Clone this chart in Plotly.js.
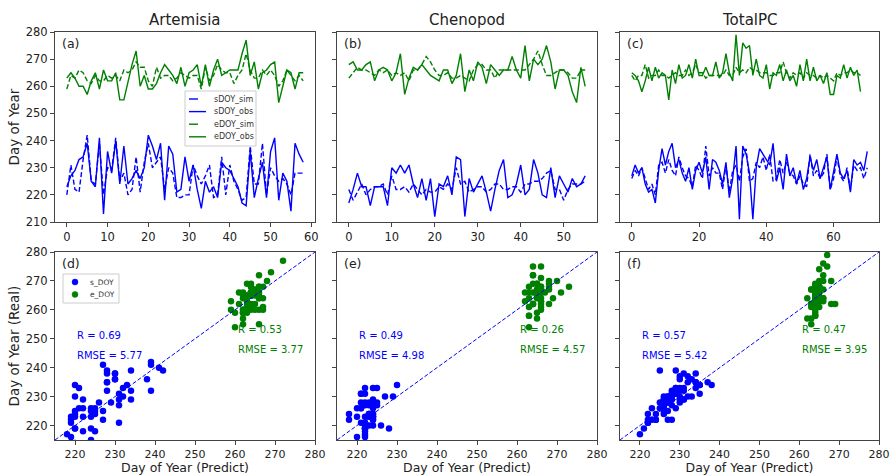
<!DOCTYPE html>
<html><head><meta charset="utf-8">
<script src="https://cdn.plot.ly/plotly-3.0.1.min.js"></script>
<style>html,body{margin:0;padding:0;background:#fff}#chart{width:890px;height:475px}</style>
</head><body><div id="chart"></div>
<script>
const panelTitles = ['Artemisia', 'Chenopod', 'TotalPC'];
const topLabels = ['(a)', '(b)', '(c)'];
const bottomLabels = ['(d)', '(e)', '(f)'];
const seriesNames = ['sDOY_sim', 'sDOY_obs', 'eDOY_sim', 'eDOY_obs'];
const scatterNames = ['s_DOY', 'e_DOY'];
const xTitle = 'Day of Year (Predict)';
const yTitleTop = 'Day of Year';
const yTitleBottom = 'Day of Year (Real)';

// Artemisia
const artSsim = [220,231,222,221,233,242,225,224,239,220,230,229,241,225,228,220,222,234,221,232,239,230,232,234,222,230,228,219,219,220,220,231,227,224,227,231,219,220,234,220,231,225,222,218,219,238,224,224,239,220,230,227,225,226,224,220,228,228,228];
const artSobs = [223,227,229,233,234,239,225,223,241,213,236,228,240,224,238,224,226,229,226,230,242,238,233,239,218,238,235,221,222,234,225,231,222,215,225,221,223,219,232,230,229,226,223,217,216,236,219,226,232,219,236,241,218,228,225,214,239,235,232];
const artEsim = [259,264,263,266,265,262,261,264,262,262,264,263,264,262,266,265,266,269,267,267,262,260,267,263,264,264,262,263,265,264,263,264,264,259,267,262,264,268,266,265,265,261,264,266,272,266,263,263,266,264,266,264,260,262,266,264,262,264,262];
const artEobs = [263,265,263,260,260,257,262,265,259,266,262,262,265,255,255,262,268,273,260,264,259,259,261,265,268,266,264,261,267,260,265,266,268,260,268,260,266,270,264,265,266,266,266,272,277,264,269,259,265,266,268,269,254,260,266,265,259,265,265];

// Chenopod
const cheSsim = [222,218,221,224,220,222,223,223,224,220,227,222,222,223,221,224,222,220,222,221,221,223,222,224,222,230,224,225,221,222,223,223,221,222,224,224,222,222,223,223,221,224,224,225,225,226,228,229,222,222,218,222,224,224,224,225];
const cheSobs = [217,222,228,223,223,216,223,223,223,216,230,228,231,228,231,224,219,226,218,226,212,224,223,227,220,234,233,212,226,221,224,227,221,214,222,229,233,219,220,224,231,220,222,233,228,220,219,230,219,227,224,221,226,223,224,227];
const cheEsim = [263,265,267,266,266,265,264,266,265,266,264,265,264,265,262,266,266,268,271,269,266,264,264,265,263,263,264,263,262,266,268,268,266,266,263,266,266,266,266,266,266,266,268,270,273,268,264,264,265,266,266,265,263,263,266,266];
const cheEobs = [268,269,266,266,268,269,262,266,267,266,262,265,272,257,263,267,266,268,266,264,263,262,266,266,261,264,272,258,266,262,269,267,261,268,266,264,266,266,271,266,263,275,262,270,268,270,275,269,259,266,266,264,258,254,267,260];

// TotalPC
const totSsim = [226,229,227,230,226,222,224,220,231,232,228,233,229,227,234,230,227,226,223,231,229,226,238,227,230,228,228,222,231,221,229,231,225,234,237,225,226,232,230,234,229,235,225,226,233,228,232,228,227,224,227,224,223,235,227,229,226,228,235,222,226,234,227,225,230,222,231,229,230,226,230];
const totSobs = [227,231,228,230,224,221,222,217,229,237,231,236,239,230,233,228,225,230,222,229,232,228,234,222,233,232,229,224,232,219,226,238,211,238,235,228,211,230,237,235,233,231,239,225,230,222,235,227,230,224,229,222,226,234,229,233,226,230,234,222,229,235,228,226,229,221,233,231,232,229,236];
const totEsim = [264,262,264,264,268,263,264,264,266,264,264,263,264,265,264,264,266,264,265,268,265,265,263,264,264,264,264,264,266,264,264,267,265,266,265,267,266,266,265,265,265,264,264,265,265,269,265,263,265,264,265,263,265,264,264,263,264,263,264,263,262,265,264,265,265,266,265,265,264];
const totEobs = [265,264,262,258,262,267,262,267,263,265,264,255,266,261,268,263,264,268,263,270,264,264,267,264,264,269,263,265,272,265,262,279,264,276,274,275,264,270,264,263,268,259,265,264,268,262,266,262,264,260,268,262,270,262,267,262,264,261,265,257,257,264,263,268,263,267,264,266,258];

const rS = [0.69, 0.49, 0.57];
const rmseS = [5.77, 4.98, 5.42];
const rE = [0.53, 0.26, 0.47];
const rmseE = [3.77, 4.57, 3.95];
const oneToOne = [215, 280];
const topYRange = [210, 280];
const bottomRange = [215, 280];
const topXTick = [10, 10, 20];

const panels = [
  [artSsim, artSobs, artEsim, artEobs],
  [cheSsim, cheSobs, cheEsim, cheEobs],
  [totSsim, totSobs, totEsim, totEobs]
];

const BLUE = '#0000ff', GREEN = '#008000';
const DASH = '5px,2.5px';
const styles = [
  {color: BLUE, dash: DASH},
  {color: BLUE, dash: 'solid'},
  {color: GREEN, dash: DASH},
  {color: GREEN, dash: 'solid'}
];

const traces = [];
panels.forEach((p, k) => {
  const xa = 'x' + (k === 0 ? '' : (k + 1));
  const ya = 'y' + (k === 0 ? '' : (k + 1));
  p.forEach((arr, s) => {
    traces.push({
      type: 'scatter', mode: 'lines', name: seriesNames[s],
      x: arr.map((_, i) => i), y: arr,
      xaxis: xa, yaxis: ya,
      line: {color: styles[s].color, dash: styles[s].dash, width: 1.4},
      showlegend: false, hoverinfo: 'skip'
    });
  });
});
panels.forEach((p, k) => {
  const xa = 'x' + (k + 4), ya = 'y' + (k + 4);
  [[p[0], p[1], BLUE], [p[2], p[3], GREEN]].forEach((d, s) => {
    traces.push({
      type: 'scatter', mode: 'markers', name: scatterNames[s],
      x: d[0], y: d[1], xaxis: xa, yaxis: ya,
      marker: {color: d[2], size: 6.5},
      showlegend: false, hoverinfo: 'skip', cliponaxis: true
    });
  });
  traces.push({
    type: 'scatter', mode: 'lines', x: oneToOne, y: oneToOne,
    xaxis: xa, yaxis: ya, showlegend: false, hoverinfo: 'skip',
    line: {color: BLUE, dash: '4px,2px', width: 1}
  });
});

const W = 890, H = 475;
const PX = v => v / W, PY = v => 1 - v / H;
const colDom = [[PX(55), PX(315)], [PX(337), PX(597)], [PX(620), PX(879)]];
const topDom = [PY(222), PY(32)];
const botDom = [PY(440), PY(252)];
const FONT = 'DejaVu Sans, sans-serif';
const common = {
  showline: true, mirror: true, linecolor: '#444', linewidth: 1,
  ticks: 'outside', ticklen: 4, tickwidth: 1, tickcolor: '#444',
  showgrid: false, zeroline: false, fixedrange: true,
  tickfont: {size: 11.5, color: '#222', family: FONT}
};

const layout = {
  width: W, height: H,
  margin: {l: 0, r: 0, t: 0, b: 0},
  paper_bgcolor: '#fff', plot_bgcolor: '#fff',
  font: {family: FONT, color: '#222'},
  showlegend: false,
  annotations: [],
  shapes: []
};

for (let k = 0; k < 3; k++) {
  const N = Math.max(panels[k][0].length, panels[k][2].length) - 1;
  const sx = k === 0 ? '' : (k + 1);
  layout['xaxis' + sx] = Object.assign({}, common, {
    domain: colDom[k], anchor: 'y' + sx,
    range: [-0.05 * N, N * 1.05], dtick: topXTick[k], tick0: 0
  });
  layout['yaxis' + sx] = Object.assign({}, common, {
    domain: topDom, anchor: 'x' + sx, range: topYRange, dtick: 10,
    showticklabels: k === 0,
    title: k === 0 ? {text: yTitleTop, font: {size: 13.5, family: FONT, color: '#222'}, standoff: 3} : undefined
  });
  layout['xaxis' + (k + 4)] = Object.assign({}, common, {
    domain: colDom[k], anchor: 'y' + (k + 4), range: bottomRange, dtick: 10, tick0: 220,
    tickfont: {size: 11, color: '#222', family: FONT},
    title: {text: xTitle, font: {size: 12.5, family: FONT, color: '#222'}, standoff: 1}
  });
  layout['yaxis' + (k + 4)] = Object.assign({}, common, {
    domain: botDom, anchor: 'x' + (k + 4), range: bottomRange, dtick: 10, tick0: 220,
    showticklabels: k === 0,
    title: k === 0 ? {text: yTitleBottom, font: {size: 13.5, family: FONT, color: '#222'}, standoff: 3} : undefined
  });

  const cx = (colDom[k][0] + colDom[k][1]) / 2;
  layout.annotations.push({
    xref: 'paper', yref: 'paper', x: cx, y: PY(20), text: panelTitles[k],
    showarrow: false, font: {size: 15, family: FONT, color: '#222'}, xanchor: 'center', yanchor: 'middle'
  });
  layout.annotations.push({
    xref: 'paper', yref: 'paper', x: colDom[k][0] + PX(5), y: topDom[1] - 2/H, text: topLabels[k],
    showarrow: false, font: {size: 12.5, family: FONT, color: '#222'}, xanchor: 'left', yanchor: 'top'
  });
  layout.annotations.push({
    xref: 'paper', yref: 'paper', x: colDom[k][0] + PX(5), y: botDom[1] - 2/H, text: bottomLabels[k],
    showarrow: false, font: {size: 12.5, family: FONT, color: '#222'}, xanchor: 'left', yanchor: 'top'
  });
  const xr = 'x' + (k + 4), yr = 'y' + (k + 4);
  const sf = {size: 10, family: FONT};
  layout.annotations.push({xref: xr, yref: yr, x: 220, y: 251.2, text: 'R = ' + rS[k].toFixed(2),
    showarrow: false, xanchor: 'left', yanchor: 'middle', font: Object.assign({color: BLUE}, sf)});
  layout.annotations.push({xref: xr, yref: yr, x: 220, y: 244.3, text: 'RMSE = ' + rmseS[k].toFixed(2),
    showarrow: false, xanchor: 'left', yanchor: 'middle', font: Object.assign({color: BLUE}, sf)});
  layout.annotations.push({xref: xr, yref: yr, x: 260.2, y: 253.2, text: 'R = ' + rE[k].toFixed(2),
    showarrow: false, xanchor: 'left', yanchor: 'middle', font: Object.assign({color: GREEN}, sf)});
  layout.annotations.push({xref: xr, yref: yr, x: 260.2, y: 246.2, text: 'RMSE = ' + rmseE[k].toFixed(2),
    showarrow: false, xanchor: 'left', yanchor: 'middle', font: Object.assign({color: GREEN}, sf)});
}

// Legend for the time-series panels (compact box like the reference)
layout.shapes.push({type: 'rect', xref: 'paper', yref: 'paper', x0: PX(185), x1: PX(256), y0: PY(146), y1: PY(91),
  fillcolor: 'rgba(255,255,255,0.85)', line: {color: '#cccccc', width: 1}, layer: 'above'});
seriesNames.forEach((name, s) => {
  const yc = 99 + s * 12.6;
  layout.shapes.push({type: 'line', xref: 'paper', yref: 'paper', x0: PX(189), x1: PX(206), y0: PY(yc), y1: PY(yc),
    line: {color: styles[s].color, width: 1.4, dash: s % 2 === 0 ? 'dash' : 'solid'}, layer: 'above'});
  layout.annotations.push({xref: 'paper', yref: 'paper', x: PX(212), y: PY(yc), text: name, showarrow: false,
    xanchor: 'left', yanchor: 'middle', font: {size: 8, family: FONT, color: '#333'}});
});
// Legend for the scatter panels
layout.shapes.push({type: 'rect', xref: 'paper', yref: 'paper', x0: PX(63), x1: PX(119), y0: PY(303), y1: PY(274),
  fillcolor: 'rgba(255,255,255,0.85)', line: {color: '#cccccc', width: 1}, layer: 'above'});
scatterNames.forEach((name, s) => {
  const yc = 282 + s * 12.4;
  const col = s === 0 ? BLUE : GREEN;
  layout.shapes.push({type: 'circle', xref: 'paper', yref: 'paper', x0: PX(72), x1: PX(78), y0: PY(yc + 3), y1: PY(yc - 3),
    fillcolor: col, line: {color: col, width: 0.5}, layer: 'above'});
  layout.annotations.push({xref: 'paper', yref: 'paper', x: PX(88), y: PY(yc), text: name, showarrow: false,
    xanchor: 'left', yanchor: 'middle', font: {size: 7.5, family: FONT, color: '#333'}});
});

Plotly.newPlot('chart', traces, layout, {displayModeBar: false, staticPlot: true});
</script>
</body></html>
